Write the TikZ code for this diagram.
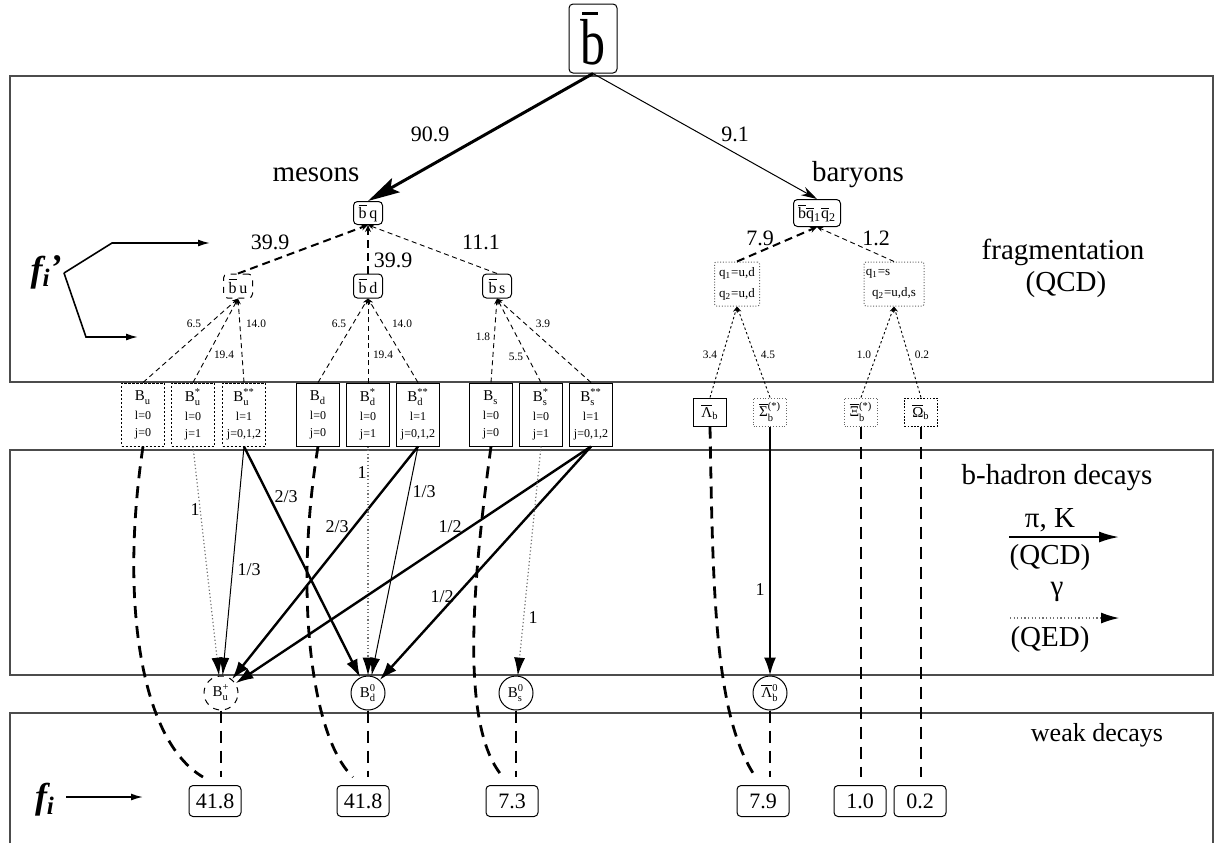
\documentclass[tikz,border=0pt]{standalone}
\usepackage{fontspec}
\setmainfont{Liberation Serif}
\usepackage{amsmath}
\usetikzlibrary{arrows.meta}
\newcommand\fsz[2]{\fontsize{#1}{#2}\selectfont}
\newcommand\ovl[1]{\ensuremath{\overline{\mbox{#1}}}}
\newcommand\Bm[2]{{\fsz{7.5}{8.5}B\ensuremath{^{\text{#1}}_{\text{#2}}}}}
\begin{document}
\begin{tikzpicture}[x=0.5pt,y=-0.5pt,
  frame/.style={draw=black!70, line width=0.8pt},
  rbox/.style={draw, rounded corners=2pt, inner sep=0pt, line width=0.5pt, font=\fsz{8}{9}},
  mbox/.style={draw, minimum width=21.5pt, minimum height=31.5pt, inner sep=0pt, align=center, font=\fsz{6}{8.5}, line width=0.5pt},
  mdash/.style={mbox, dash pattern=on 1.2pt off 0.8pt},
  qbox/.style={draw=black!60, rounded corners=1pt, dash pattern=on 0.5pt off 0.9pt, line width=0.5pt, minimum height=22pt, inner sep=0pt, align=center, font=\fsz{6.5}{10.5}},
  ybox/.style={minimum width=16.5pt, minimum height=14pt, inner sep=0pt, font=\fsz{7.5}{9}, line width=0.5pt},
  bcirc/.style={draw, circle, minimum size=17pt, inner sep=0pt, font=\fsz{7.5}{9}, line width=0.5pt},
  fbox/.style={draw, rounded corners=2pt, minimum width=26pt, minimum height=15.5pt, inner sep=0pt, font=\fsz{11}{13}, line width=0.5pt},
  bignum/.style={inner sep=0pt, font=\fsz{11}{13}},
  tinynum/.style={inner sep=0pt, font=\fsz{5.7}{7}},
  midnum/.style={inner sep=0pt, font=\fsz{9}{11}},
  lab/.style={inner sep=0pt, font=\fsz{14.5}{16}},
  fthick/.style={line width=1pt, dash pattern=on 4pt off 2.5pt, -{Stealth[length=3.5pt,width=3pt]}},
  fthin/.style={line width=0.45pt, dash pattern=on 2.5pt off 1.8pt, -{Stealth[length=3pt,width=2.4pt]}},
  fdot/.style={line width=0.45pt, dash pattern=on 1.2pt off 1.2pt, -{Stealth[length=3pt,width=2.4pt]}},
  weak/.style={line width=1.4pt, dash pattern=on 6pt off 4pt},
  hthick/.style={line width=1.2pt, -{Latex[length=9pt,width=6pt]}},
  hthin/.style={line width=0.5pt, -{Latex[length=9pt,width=5pt]}},
  hgam/.style={line width=0.6pt, draw=black!55, dash pattern=on 0.6pt off 1.2pt, -{Latex[length=9pt,width=5.5pt,color=black]}},
  farrow/.style={line width=0.8pt, -{Latex[length=6pt,width=3.5pt]}}
]
\useasboundingbox (0,0) rectangle (1219,843);

% frames
\draw[frame] (10,76) rectangle (1213,382);
\draw[frame] (10,450) rectangle (1213,675);
\draw[frame] (10,843) -- (10,713) -- (1213,713) -- (1213,843);

% top
\node[draw, rounded corners=2pt, line width=0.5pt, minimum width=24pt, minimum height=34.5pt, inner sep=0pt] (bb) at (593,38.5)
  {\scalebox{1}[1.3]{\fsz{25}{30}\makebox[0pt][l]{\hspace{0.8pt}\raisebox{19pt}{\rule{8pt}{1.3pt}}}b}};

\node[rbox, minimum width=14.5pt, minimum height=11.5pt] (bq) at (368,213) {\ovl{b}\,q};
\node[rbox, minimum width=23.5pt, minimum height=13.5pt] (bqq) at (817,213) {\ovl{b}\ovl{q}\textsubscript{1}\ovl{q}\textsubscript{2}};

\draw[line width=1.5pt, -{Stealth[length=16pt,width=8pt,inset=3pt]}] (bb.south) -- (bq.north);
\draw[line width=0.5pt, -{Stealth[length=8pt,width=4.5pt]}] (bb.south) -- (bqq.north);
\node[bignum] (n909) at (430,134) {90.9};
\node[bignum] (n91) at (735,134) {9.1};
\node[lab] (mes) at (316,175) {mesons};
\node[lab] (bar) at (858,175) {baryons};

% second level
\node[rbox, dashed, minimum width=14.5pt, minimum height=12pt] (bu) at (238,286) {\ovl{b}\,u};
\node[rbox, minimum width=14.5pt, minimum height=12pt] (bd) at (368,286) {\ovl{b}\,d};
\node[rbox, minimum width=14.5pt, minimum height=12pt] (bs) at (497,286) {\ovl{b}\,s};
\draw[fthick] (bu.north) -- (bq.south);
\draw[fthick] (bd.north) -- (bq.south);
\draw[fthin] (bs.north) -- (bq.south);
\node[bignum] (n399a) at (270,242) {39.9};
\node[bignum] (n399b) at (393,260) {39.9};
\node[bignum] (n111) at (481,242) {11.1};

\node[qbox, minimum width=22.5pt] (qud) at (737,284) {q\textsubscript{1}=u,d\\q\textsubscript{2}=u,d};
\node[qbox, minimum width=30pt] (qs) at (894,284) {q\textsubscript{1}=s\hspace{16pt}\mbox{}\\q\textsubscript{2}=u,d,s};
\draw[fthick] (qud.north) -- (bqq.south);
\draw[fthin] (qs.north) -- (bqq.south);
\node[bignum] (n79) at (760,238) {7.9};
\node[bignum] (n12) at (876,238) {1.2};

\node[lab] (frag) at (1063,252) {fragmentation};
\node[lab] (fqcd) at (1066,285) {(QCD)};

% f_i' arrows
\node[inner sep=0pt, font=\fsz{18}{20}\bfseries\itshape] (fip) at (46,272) {f\textsubscript{i}\kern-0.5pt\raisebox{1pt}{’}};
\coordinate (fv) at (64,273);
\coordinate (fu1) at (112,243);
\coordinate (fu2) at (210,243);
\coordinate (fd1) at (86,337);
\coordinate (fd2) at (138,337);
\draw[farrow] (fv) -- (fu1) -- (fu2);
\draw[farrow] (fv) -- (fd1) -- (fd2);

% meson boxes
\node[mdash] (Bu) at (143,414.5) {\Bm{}{u}\\[1pt]l=0\\j=0};
\node[mdash] (Bsu) at (193,414.5) {\Bm{*}{u}\\[1pt]l=0\\j=1};
\node[mdash] (Bssu) at (244,414.5) {\Bm{**}{u}\\[1pt]l=1\\j=0,1,2};
\node[mbox] (Bd) at (318,414.5) {\Bm{}{d}\\[1pt]l=0\\j=0};
\node[mbox] (Bsd) at (368,414.5) {\Bm{*}{d}\\[1pt]l=0\\j=1};
\node[mbox] (Bssd) at (418,414.5) {\Bm{**}{d}\\[1pt]l=1\\j=0,1,2};
\node[mbox] (Bs) at (491,414.5) {\Bm{}{s}\\[1pt]l=0\\j=0};
\node[mbox] (Bss) at (541,414.5) {\Bm{*}{s}\\[1pt]l=0\\j=1};
\node[mbox] (Bsss) at (591,414.5) {\Bm{**}{s}\\[1pt]l=1\\j=0,1,2};

\draw[fthin] (Bu.north) -- (bu.south);
\draw[fthin] (Bsu.north) -- (bu.south);
\draw[fthin] (Bssu.north) -- (bu.south);
\draw[fthin] (Bd.north) -- (bd.south);
\draw[fthin] (Bsd.north) -- (bd.south);
\draw[fthin] (Bssd.north) -- (bd.south);
\draw[fthin] (Bs.north) -- (bs.south);
\draw[fthin] (Bss.north) -- (bs.south);
\draw[fthin] (Bsss.north) -- (bs.south);
\node[tinynum] (t1) at (194,324) {6.5};
\node[tinynum] (t2) at (224,355) {19.4};
\node[tinynum] (t3) at (256,324) {14.0};
\node[tinynum] (t4) at (339,324) {6.5};
\node[tinynum] (t5) at (383,355) {19.4};
\node[tinynum] (t6) at (402,324) {14.0};
\node[tinynum] (t7) at (483,337) {1.8};
\node[tinynum] (t8) at (516,357) {5.5};
\node[tinynum] (t9) at (543,324) {3.9};

% baryon boxes
\node[ybox, draw] (Lb) at (710,412) {\ovl{Λ}\textsubscript{b}};
\node[ybox, draw=black!60, dash pattern=on 0.5pt off 0.9pt] (Sb) at (770,412) {\ovl{Σ}\ensuremath{^{\text{(*)}}_{\text{b}}}};
\node[ybox, draw=black!60, dash pattern=on 0.5pt off 0.9pt] (Xb) at (861,412) {\ovl{Ξ}\ensuremath{^{\text{(*)}}_{\text{b}}}};
\node[ybox, draw, dash pattern=on 0.8pt off 0.8pt] (Ob) at (921,412) {\ovl{Ω}\textsubscript{b}};
\draw[fdot] (Lb.north) -- (qud.south);
\draw[fdot] (Sb.north) -- (qud.south);
\draw[fdot] (Xb.north) -- (qs.south);
\draw[fdot] (Ob.north) -- (qs.south);
\node[tinynum] (t10) at (710,355) {3.4};
\node[tinynum] (t11) at (768,355) {4.5};
\node[tinynum] (t12) at (864,355) {1.0};
\node[tinynum] (t13) at (922,355) {0.2};

% circles
\node[bcirc, dashed] (Bpu) at (221,693) {B\ensuremath{^{\text{+}}_{\text{u}}}};
\node[bcirc] (B0d) at (368,693) {B\ensuremath{^{\text{0}}_{\text{d}}}};
\node[bcirc] (B0s) at (516,693) {B\ensuremath{^{\text{0}}_{\text{s}}}};
\node[bcirc] (L0b) at (770,693) {\ovl{Λ}\ensuremath{^{\text{0}}_{\text{b}}}};

% decays
\draw[hgam] (Bsu.south) -- (Bpu);
\draw[hthin] (Bssu.south) -- (Bpu);
\draw[hthick] (Bssu.south) -- (B0d);
\draw[hthick] (Bssd.south) -- (Bpu);
\draw[hthin] (Bssd.south) -- (B0d);
\draw[hgam] (Bsd.south) -- (B0d);
\draw[hthick] (Bsss.south) -- (Bpu);
\draw[hthick] (Bsss.south) -- (B0d);
\draw[hgam] (Bss.south) -- (B0s);
\draw[hthick] (Sb.south) -- (L0b);
\node[midnum] (d1) at (195,510) {1};
\node[midnum] (d2) at (249,570) {1/3};
\node[midnum] (d3) at (286,497) {2/3};
\node[midnum] (d4) at (337,527) {2/3};
\node[midnum] (d5) at (424,492) {1/3};
\node[midnum] (d6) at (362,473) {1};
\node[midnum] (d7) at (450,527) {1/2};
\node[midnum] (d8) at (442,597) {1/2};
\node[midnum] (d9) at (533,618) {1};
\node[midnum] (d10) at (760,590) {1};

% legend
\node[lab] (lhd) at (1057,478) {b-hadron decays};
\node[lab] (lpk) at (1050,520) {π, K};
\coordinate (la1) at (1009,537);
\coordinate (la2) at (1119,537);
\draw[line width=1pt, -{Latex[length=10pt,width=5.5pt]}] (la1) -- (la2);
\node[lab] (lqcd) at (1050,558) {(QCD)};
\node[lab] (lgam) at (1057,592) {γ};
\coordinate (lb1) at (1010,618);
\coordinate (lb2) at (1119,618);
\draw[hgam] (lb1) -- (lb2);
\node[lab] (lqed) at (1050,640) {(QED)};
\node[inner sep=0pt, font=\fsz{13}{15}] (lwd) at (1097,735) {weak decays};

% final boxes
\node[fbox] (f1) at (215,801) {41.8};
\node[fbox] (f2) at (363,801) {41.8};
\node[fbox] (f3) at (512,801) {7.3};
\node[fbox] (f4) at (763,801) {7.9};
\node[fbox] (f5) at (860,801) {1.0};
\node[fbox] (f6) at (920,801) {0.2};

\coordinate (e1) at (203,777);
\coordinate (e2) at (353,777);
\coordinate (e3) at (503,777);
\coordinate (e4) at (757,779);
\draw[weak] (Bu.south) .. controls (120,600) and (140,740) .. (e1);
\draw[weak] (Bd.south) .. controls (293,600) and (313,740) .. (e2);
\draw[weak] (Bs.south) .. controls (470,600) and (462,730) .. (e3);
\draw[weak] (Lb.south) .. controls (713,600) and (715,720) .. (e4);
\draw[weak, shorten >=4pt] (Bpu.south) -- (Bpu.south |- f1.north);
\draw[weak, shorten >=4pt] (B0d.south) -- (B0d.south |- f2.north);
\draw[weak, shorten >=4pt] (B0s.south) -- (B0s.south |- f3.north);
\draw[weak, shorten >=4pt] (L0b.south) -- (L0b.south |- f4.north);
\draw[weak, shorten >=4pt] (Xb.south) -- (Xb.south |- f5.north);
\draw[weak, shorten >=4pt] (Ob.south) -- (Ob.south |- f6.north);

\node[inner sep=0pt, font=\fsz{18}{20}\bfseries\itshape] (fi) at (45,800) {f\textsubscript{i}};
\coordinate (fis) at (66,797);
\coordinate (fie) at (143,797);
\draw[line width=0.8pt, -{Latex[length=6pt,width=3.5pt]}] (fis) -- (fie);
\end{tikzpicture}
\end{document}
